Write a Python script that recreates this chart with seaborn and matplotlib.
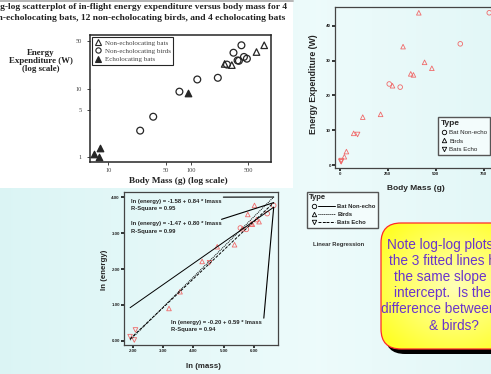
import numpy as np
import pandas as pd
import matplotlib
matplotlib.use('Agg')
import matplotlib.pyplot as plt
import seaborn as sns
from matplotlib.patches import FancyBboxPatch, Rectangle
from matplotlib.lines import Line2D
from matplotlib.legend_handler import HandlerTuple

# in-flight energy expenditure (W) vs body mass (g)
mass_bats = [779.0, 628.0, 258.0, 315.0]
energy_bats = [43.70, 34.80, 23.30, 22.40]
mass_birds = [24.3, 35.0, 72.8, 120.0, 213.0, 275.0, 370.0, 384.0, 442.0, 412.0, 330.0, 480.0]
energy_birds = [2.46, 3.93, 9.15, 13.80, 14.60, 22.80, 26.20, 25.90, 29.50, 43.70, 34.00, 27.80]
mass_echo = [93.0, 8.0, 6.7, 7.7]
energy_echo = [8.83, 1.35, 1.12, 1.02]

types = ['Bat Non-echo', 'Birds', 'Bats Echo']
old_labels = ['Non-echolocating bats', 'Non-echolocating birds', 'Echolocating bats']

# fitted lines printed on the ln-ln plot
fit_intercept = [-0.20, -1.58, -1.47]
fit_slope = [0.59, 0.84, 0.80]
fit_r2 = [0.94, 0.95, 0.99]

lin_xticks = [0, 250, 500, 750]
lin_yticks = [0, 10, 20, 30, 40]
log_xticks = [10, 50, 100, 500]
log_yticks = [1, 5, 10, 50]
ln_xticks = [2, 3, 4, 5, 6]
ln_yticks = [0, 1, 2, 3, 4]

title_lines = ['Log-log scatterplot of in-flight energy expenditure versus body mass for 4',
               'Non-echolocating bats, 12 non-echolocating birds, and 4 echolocating bats']
note_lines = ['Note log-log plots and', 'the 3 fitted lines have', 'the same slope and',
              'intercept.  Is there a', 'difference between bats', '& birds?']

df = pd.DataFrame({
    'mass': mass_bats + mass_birds + mass_echo,
    'energy': energy_bats + energy_birds + energy_echo,
    'Type': [types[0]] * len(mass_bats) + [types[1]] * len(mass_birds) + [types[2]] * len(mass_echo),
})
df['lmass'] = np.log(df['mass'])
df['lenergy'] = np.log(df['energy'])

sns.set_style('ticks')
plt.rcParams['font.family'] = ['Liberation Sans', 'DejaVu Sans']
serif = 'Liberation Serif'
pink = '#f06a6a'
ink = '#262626'
marker_map = dict(zip(types, ['o', '^', 'v']))
line_styles = ['-', (0, (1, 1)), (0, (3, 1.5))]

W, H = 491, 374
fig = plt.figure(figsize=(W / 100, H / 100), dpi=100)


def px_axes(l, t, r, b, **kw):
    return fig.add_axes([l / W, 1 - b / H, (r - l) / W, (b - t) / H], **kw)


# slide background, pixel coordinates
bg = fig.add_axes([0, 0, 1, 1], zorder=0)
bg.axis('off')
pos = np.linspace(0, 1, 300)
stops = [0, 0.65, 1]
grad = np.stack([np.interp(pos, stops, [0.86, 0.93, 0.89]),
                 np.interp(pos, stops, [0.96, 0.985, 0.97]),
                 np.interp(pos, stops, [0.96, 0.985, 0.97])], axis=-1)[None, :, :]
bg.imshow(grad, extent=(0, W, H, 0), aspect='auto', zorder=0)
bg.add_patch(Rectangle((0, 0), 293, 188, fc='white', ec='none', zorder=1))
bg.plot([0, 293], [0.8, 0.8], color='#b5b5b5', lw=1.4, zorder=1)

for txt, xr, yb in zip(title_lines, [287, 285.5], [9, 19.5]):
    bg.text(xr, yb, txt, ha='right', va='baseline', fontsize=6.8, weight='bold',
            family=serif, color='#222', zorder=2)
for txt, yc in zip(['Energy', 'Expenditure (W)', '(log scale)'], [53.3, 61, 69]):
    bg.text(40.5, yc, txt, ha='center', va='center', fontsize=6.4, weight='bold',
            family=serif, color='#222', zorder=2)

# callout
bx, by, bw, bh = 381, 223, 146, 126
style = 'round,pad=0,rounding_size=20'
bg.add_patch(FancyBboxPatch((bx + 4, by + 5), bw, bh, boxstyle=style, fc='black', ec='none', zorder=2))
box = FancyBboxPatch((bx, by), bw, bh, boxstyle=style, fc='none', ec='#ff2a2a', lw=0.9, zorder=4)
bg.add_patch(box)
gx, gy = np.meshgrid(np.linspace(-1, 1, 200), np.linspace(-1, 1, 200))
r = np.clip(np.sqrt(gx ** 2 + gy ** 2) / 1.25, 0, 1)[..., None]
fill = np.array([1, 1, 0.72]) * (1 - r) + np.array([1, 1, 0.15]) * r
im = bg.imshow(fill, extent=(bx, bx + bw, by + bh, by), aspect='auto', zorder=3)
im.set_clip_path(box)
bg.text(454, 285, '\n'.join(note_lines), ha='center', va='center', fontsize=9.8,
        color='#6a35cc', linespacing=1.2, zorder=6)
bg.text(313.3, 244, 'Linear Regression', ha='left', va='center', fontsize=4.2,
        weight='bold', color='#333', zorder=6)
bg.set_xlim(0, W)
bg.set_ylim(H, 0)

# ---- top-left: scanned log-log scatterplot
ax1 = px_axes(90, 35, 270.7, 161.7, zorder=2)
ax1.set_facecolor('white')
ax1.set_xscale('log')
ax1.set_yscale('log')
sub = [df[df.Type == t] for t in types]
sns.scatterplot(data=sub[0], x='mass', y='energy', marker='^', s=22, edgecolor=ink,
                facecolor='none', linewidth=0.9, ax=ax1, legend=False)
sns.scatterplot(data=sub[1], x='mass', y='energy', marker='o', s=24, edgecolor=ink,
                facecolor='none', linewidth=0.9, ax=ax1, legend=False)
sns.scatterplot(data=sub[2], x='mass', y='energy', marker='^', s=22, edgecolor=ink,
                facecolor=ink, linewidth=0.9, ax=ax1, legend=False)
ax1.set_xlim(5.98, 934)
ax1.set_ylim(0.863, 61.8)
ax1.minorticks_off()
ax1.set_xticks(log_xticks)
ax1.set_xticklabels([str(v) for v in log_xticks], fontfamily=serif)
ax1.set_yticks(log_yticks)
ax1.set_yticklabels([str(v) for v in log_yticks], fontfamily=serif)
ax1.tick_params(length=2.2, width=0.6, color=ink, labelsize=4.6, labelcolor='#444')
ax1.tick_params(axis='x', pad=2.4)
ax1.tick_params(axis='y', pad=3.5)
for s in ax1.spines.values():
    s.set_color(ink)
    s.set_linewidth(1.1)
ax1.set_ylabel('')
ax1.set_xlabel('Body Mass (g) (log scale)', fontsize=6.65, weight='bold', family=serif,
               color='#222', va='center')
ax1.xaxis.set_label_coords((178.5 - 90) / 180.7, 1 - (181 - 35) / 126.7)
h1 = [Line2D([], [], ls='none', marker='^', mfc='none', mec=ink, mew=0.8, ms=3.8),
      Line2D([], [], ls='none', marker='o', mfc='none', mec=ink, mew=0.8, ms=3.8),
      Line2D([], [], ls='none', marker='^', mfc=ink, mec=ink, mew=0.8, ms=3.8)]
leg1 = ax1.legend(h1, old_labels, loc='upper left', bbox_to_anchor=(0.013, 0.982),
                  borderaxespad=0, prop={'family': serif, 'size': 5}, labelcolor='#444',
                  fancybox=False, framealpha=1, facecolor='white', edgecolor=ink,
                  handlelength=0.9, handletextpad=0.5, labelspacing=0.35, borderpad=0.35)
leg1.get_frame().set_linewidth(0.8)

# ---- top-right: linear scatterplot
ax2 = px_axes(335, 6.7, 497, 168.3, zorder=2)
ax2.set_facecolor('none')
sns.scatterplot(data=df, x='mass', y='energy', style='Type', style_order=types,
                markers=marker_map, s=11, edgecolor=pink, facecolor='none',
                linewidth=0.6, ax=ax2, legend=False)
ax2.set_xlim(-24.5, (497 - 339.7) / 0.192)
ax2.set_ylim(-0.86, 45.44)
ax2.set_xticks(lin_xticks)
ax2.set_yticks(lin_yticks)
ax2.set_xticklabels([str(v) for v in lin_xticks])
ax2.set_yticklabels([str(v) for v in lin_yticks])
ax2.set_xlabel('Body Mass (g)', fontsize=6, weight='bold', va='center')
ax2.set_ylabel('Energy Expenditure (W)', fontsize=6.3, weight='bold', va='center')
ax2.xaxis.set_label_coords((416 - 335) / 162, 1 - (188.3 - 6.7) / 161.6)
ax2.yaxis.set_label_coords((313.3 - 335) / 162, 1 - (84 - 6.7) / 161.6)
h2 = [Line2D([], [], ls='none', marker=marker_map[t], mfc='none', mec='black', mew=0.6, ms=3.2)
      for t in types]
leg2 = ax2.legend(h2, types, loc='upper left', bbox_to_anchor=(438.3 / W, 1 - 116.7 / H),
                  bbox_transform=fig.transFigure, borderaxespad=0, fontsize=4.5,
                  title='Type', title_fontproperties={'weight': 'bold', 'size': 6},
                  alignment='left', fancybox=False, framealpha=1, facecolor='#f3fcfc',
                  edgecolor='#555', handlelength=0.8, handletextpad=0.5,
                  labelspacing=0.5, borderpad=0.45)
leg2.get_frame().set_linewidth(1.0)

# ---- bottom: ln-ln with regression lines
ax3 = px_axes(124, 192.3, 278.3, 345, zorder=2)
ax3.set_facecolor('none')
sns.scatterplot(data=df, x='lmass', y='lenergy', style='Type', style_order=types,
                markers=marker_map, s=11, edgecolor=pink, facecolor='none',
                linewidth=0.6, ax=ax3, legend=False)
x0, x1 = df['lmass'].min(), df['lmass'].max()
eq_pos = [(3.245, 0.503), (1.92, 3.88), (1.92, 3.26)]
leader_start = [(6.33, 0.63), (4.99, 4.01), (4.93, 3.39)]
for b0, b1, r2, ls, (tx, ty), (lx, ly) in zip(fit_intercept, fit_slope, fit_r2,
                                              line_styles, eq_pos, leader_start):
    ax3.plot([x0, x1], [b0 + b1 * x0, b0 + b1 * x1], color='black', lw=0.7, ls=ls)
    ax3.plot([lx, x1], [ly, b0 + b1 * x1], color='black', lw=0.8)
    ax3.text(tx, ty, f'ln (energy) = {b0:.2f} + {b1:.2f} * lmass', fontsize=4.2,
             weight='bold', ha='left', va='center')
    ax3.text(tx, ty - 0.2, f'R-Square = {r2:.2f}', fontsize=4.2, weight='bold',
             ha='left', va='center')
ax3.set_xlim(1.70, 6.81)
ax3.set_ylim(-0.12, 4.145)
ax3.set_xticks(ln_xticks)
ax3.set_yticks(ln_yticks)
ax3.set_xticklabels([f'{v:.2f}' for v in ln_xticks])
ax3.set_yticklabels([f'{v:.2f}' for v in ln_yticks])
ax3.set_xlabel('ln (mass)', fontsize=5.7, weight='bold', va='center')
ax3.set_ylabel('ln (energy)', fontsize=5.7, weight='bold', va='center')
ax3.xaxis.set_label_coords((203.3 - 124) / 154.3, 1 - (366 - 192.3) / 152.7)
ax3.yaxis.set_label_coords((105 - 124) / 154.3, 1 - (270 - 192.3) / 152.7)
h3 = [(Line2D([], [], ls='none', marker=marker_map[t], mfc='none', mec='black', mew=0.6, ms=3.2),
       Line2D([], [], ls=s, color='black', lw=0.7),
       Line2D([], [], ls=s, color='black', lw=0.7)) for t, s in zip(types, line_styles)]
leg3 = ax3.legend(h3, types, handler_map={tuple: HandlerTuple(ndivide=None, pad=0)},
                  loc='upper left', bbox_to_anchor=(306.7 / W, 1 - 191.7 / H),
                  bbox_transform=fig.transFigure, borderaxespad=0,
                  prop={'weight': 'bold', 'size': 4.2}, title='Type',
                  title_fontproperties={'weight': 'bold', 'size': 5.5}, alignment='left',
                  fancybox=False, framealpha=1, facecolor='#f3fcfc', edgecolor='#555',
                  handlelength=4.4, handletextpad=0.4, labelspacing=0.5, borderpad=0.45)
leg3.get_frame().set_linewidth(1.0)

for ax in (ax2, ax3):
    ax.tick_params(length=2.2, width=1.1, color='black', labelsize=3.2, pad=0.8)
    for lab in ax.get_xticklabels() + ax.get_yticklabels():
        lab.set_fontweight('bold')
    for s in ax.spines.values():
        s.set_color('#444')
        s.set_linewidth(0.9)

fig.savefig('out.png', dpi=100)
